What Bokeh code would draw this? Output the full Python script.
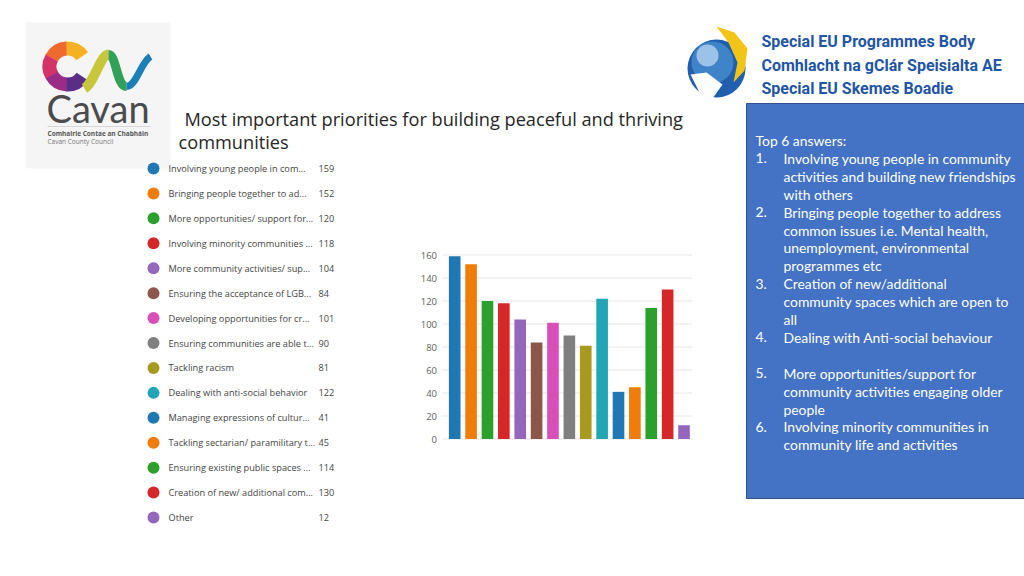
from bokeh.plotting import figure
from bokeh.models import Range1d, LinearAxis, FixedTicker
from bokeh.core.properties import value
from bokeh.embed import file_html
from bokeh.resources import INLINE
import math

# ---------------- data ----------------
categories = [
    "Involving young people in com...",
    "Bringing people together to ad...",
    "More opportunities/ support for...",
    "Involving minority communities ...",
    "More community activities/ sup...",
    "Ensuring the acceptance of LGB...",
    "Developing opportunities for cr...",
    "Ensuring communities are able t...",
    "Tackling racism",
    "Dealing with anti-social behavior",
    "Managing expressions of cultur...",
    "Tackling sectarian/ paramilitary t...",
    "Ensuring existing public spaces ...",
    "Creation of new/ additional com...",
    "Other",
]
counts = [159, 152, 120, 118, 104, 84, 101, 90, 81, 122, 41, 45, 114, 130, 12]
colors = ["#1f77b4", "#f07d0a", "#2ca02c", "#d62728", "#9467bd", "#8c564b",
          "#d84fb8", "#7f7f7f", "#a8991f", "#22a6b5", "#1f77b4", "#f07d0a",
          "#2ca02c", "#d62728", "#9467bd"]
y_ticks = [0, 20, 40, 60, 80, 100, 120, 140, 160]

title_lines = ["Most important priorities for building peaceful and thriving",
               "communities"]

box_header = "Top 6 answers:"
box_numbers = ["1.", "2.", "3.", "4.", "5.", "6."]
box_items = [
    ["Involving young people in community",
     "activities and building new friendships",
     "with others"],
    ["Bringing people together to address",
     "common issues i.e. Mental health,",
     "unemployment, environmental",
     "programmes etc"],
    ["Creation of new/additional",
     "community spaces which are open to",
     "all"],
    ["Dealing with Anti-social behaviour", ""],
    ["More opportunities/support for",
     "community activities engaging older",
     "people"],
    ["Involving minority communities in",
     "community life and activities"],
]

seupb_lines = ["Special EU Programmes Body",
               "Comhlacht na gClár Speisialta AE",
               "Special EU Skemes Boadie"]
cavan_name = "Cavan"
cavan_sub = ["Comhairle Contae an Chabháin", "Cavan County Council"]

# ---------------- figure (page pixel coordinates) ----------------
W, H = 1024, 568
p = figure(width=W, height=H, x_range=Range1d(0, W), y_range=Range1d(H, 0),
           output_backend="svg", toolbar_location=None,
           x_axis_location=None, y_axis_location=None, min_border=0,
           outline_line_color=None, background_fill_color="white",
           border_fill_color="white")
p.xgrid.visible = False
p.ygrid.visible = False

# ---------- Cavan logo ----------
p.quad(left=25, right=170, top=22, bottom=168, fill_color="#f5f5f5", line_color=None)
c_cols = ["#f4b223", "#ef6b2d", "#d4336a", "#9a2b86", "#5a2d86"]
n = len(c_cols)
a0, a1 = math.radians(35), math.radians(325)
step = (a1 - a0) / n
for i, c in enumerate(c_cols):
    p.annular_wedge(x=67, y=66, inner_radius=11, outer_radius=25,
                    start_angle=a0 + i * step, end_angle=a0 + (i + 1) * step + 0.02,
                    fill_color=c, line_color=None)
p.bezier(x0=[84], y0=[88], x1=[108], y1=[54], cx0=[94], cy0=[82], cx1=[100], cy1=[54],
         line_color="#c8c63a", line_width=10)
p.bezier(x0=[108], y0=[54], x1=[126], y1=[86], cx0=[116], cy0=[54], cx1=[116], cy1=[86],
         line_color="#33a05a", line_width=9)
p.bezier(x0=[126], y0=[86], x1=[150], y1=[56], cx0=[136], cy0=[86], cx1=[140], cy1=[62],
         line_color="#1b7fb8", line_width=7)
p.text(x=[46], y=[107], text=[cavan_name], text_font=value("Lato"), text_font_size="38px",
       text_color="#4b4b4d", text_baseline="middle", text_align="left")
p.segment(x0=[47], x1=[150], y0=[126], y1=[126], line_color="#d6d6d6", line_width=1)
p.text(x=[47, 47], y=[133, 141], text=cavan_sub, text_font=value("Open Sans"),
       text_font_size="6.5px", text_color=["#555555", "#777777"],
       text_font_style=["bold", "normal"], text_baseline="middle")

# ---------- SEUPB logo ----------
p.circle(x=[716], y=[68], radius=29, fill_color="#1f5fae", line_color=None)
p.circle(x=[712], y=[62], radius=21, fill_color="#3f83c9", line_color=None)
p.circle(x=[707], y=[55], radius=11, fill_color="#9cc2e8", line_color=None)
p.patch(x=[690, 706, 722, 712, 700], y=[74, 72, 84, 98, 94], fill_color="white", line_color=None)
p.patch(x=[716, 734, 747, 744, 733, 737, 728], y=[26, 32, 48, 70, 82, 62, 42],
        fill_color="#f2c416", line_color=None)
p.text(x=[761] * 3, y=[41, 65, 88], text=seupb_lines, text_font=value("Roboto"),
       text_font_style="bold", text_font_size="16px", text_color="#1f55a5",
       text_baseline="middle")

# ---------- title ----------
p.text(x=[184, 178], y=[118, 141], text=title_lines, text_font=value("Open Sans"),
       text_font_size="18.2px", text_color="#262626", text_baseline="middle")

# ---------- legend list ----------
LY0, LDY = 168, 24.93
ly = [LY0 + i * LDY for i in range(len(categories))]
p.scatter(x=[153] * len(ly), y=ly, size=12, marker="circle", fill_color=colors, line_color=None)
p.text(x=[168] * len(ly), y=ly, text=categories, text_font=value("Open Sans"),
       text_font_size="9.2px", text_color="#444444", text_baseline="middle")
p.text(x=[318] * len(ly), y=ly, text=[str(c) for c in counts], text_font=value("Open Sans"),
       text_font_size="9.2px", text_color="#444444", text_baseline="middle")

# ---------- bar chart via extra ranges ----------
BX0, BDX = 454.2, 16.38       # page x of bar 0 centre, page px per bar
Y0, YS = 438.5, 1.15          # page y of value 0, page px per unit
p.extra_x_ranges = {"bx": Range1d((0 - BX0) / BDX, (W - BX0) / BDX)}
p.extra_y_ranges = {"by": Range1d((Y0 - H) / YS, (Y0 - 0) / YS)}
gx0, gx1 = (441.5 - BX0) / BDX, (691.5 - BX0) / BDX
p.segment(x0=[gx0] * len(y_ticks), x1=[gx1] * len(y_ticks), y0=y_ticks, y1=y_ticks,
          line_color="#e6e6e6", line_width=1, x_range_name="bx", y_range_name="by")
p.vbar(x=list(range(len(counts))), top=counts, bottom=0, width=0.71,
       fill_color=colors, line_color=None, x_range_name="bx", y_range_name="by")
ax = LinearAxis(x_range_name="bx", y_range_name="by", ticker=FixedTicker(ticks=y_ticks),
                bounds=(0, 160), fixed_location=(446.5 - BX0) / BDX)
ax.axis_line_color = None
ax.major_tick_line_color = None
ax.minor_tick_line_color = None
ax.major_label_standoff = 4
ax.major_label_text_font = "Open Sans"
ax.major_label_text_font_size = "9.5px"
ax.major_label_text_color = "#605e5c"
p.add_layout(ax, "left")

# ---------- blue text box ----------
p.quad(left=746, right=W + 2, top=103, bottom=498, fill_color="#4472c4",
       line_color="#2f528f", line_width=1)
LH = 17.9
bx_y = [140.0]
bx_t = [box_header]
bx_x = [755]
num_x, num_y, num_t = [], [], []
k = 1
for num, lines in zip(box_numbers, box_items):
    num_x.append(755); num_y.append(140 + k * LH); num_t.append(num)
    for ln in lines:
        if ln:
            bx_x.append(783); bx_y.append(140 + k * LH); bx_t.append(ln)
        k += 1
p.text(x=bx_x + num_x, y=bx_y + num_y, text=bx_t + num_t, text_font=value("Lato"),
       text_font_size="13.9px", text_color="white", text_baseline="middle")

open("out.html", "w").write(file_html(p, INLINE))
